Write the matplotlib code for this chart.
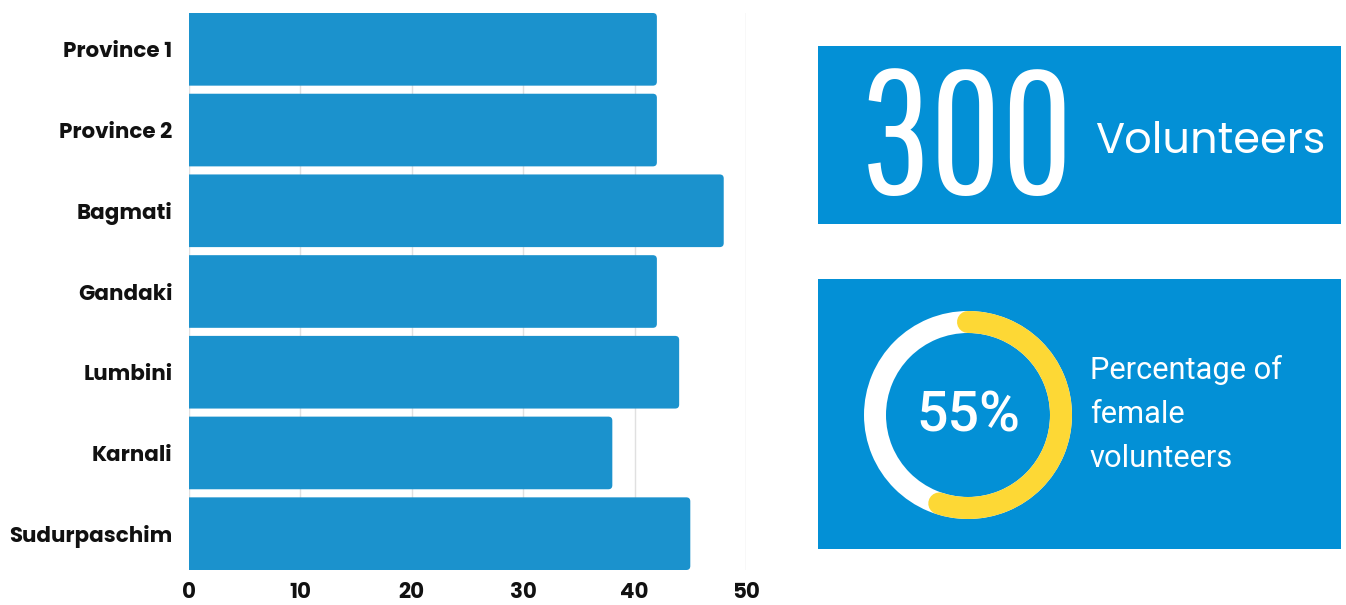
import numpy as np
import matplotlib
matplotlib.use("Agg")
import matplotlib.pyplot as plt
from matplotlib import font_manager as fm
from matplotlib.textpath import TextPath
from matplotlib.patches import Rectangle, Wedge, FancyBboxPatch

# ---- data -------------------------------------------------------------
provinces = ["Province 1", "Province 2", "Bagmati", "Gandaki",
             "Lumbini", "Karnali", "Sudurpaschim"]
volunteers_by_province = [42, 42, 48, 42, 44, 38, 45]
x_ticks = [0, 10, 20, 30, 40, 50]
total_volunteers = 300
female_pct = 55

# ---- styling ----------------------------------------------------------
BAR_BLUE = "#1B92CD"
BOX_BLUE = "#0390D6"
YELLOW = "#FDD835"
GRID = "#E0E0E0"


def pick(candidates):
    """Return (family, weight) for the first installed face in the list."""
    faces = {}
    for f in fm.fontManager.ttflist:
        w = f.weight if isinstance(f.weight, int) else fm.weight_dict.get(f.weight, 400)
        if f.style == "normal":
            faces.setdefault(f.name, set()).add(w)
    for name, weight in candidates:
        if weight in faces.get(name, ()):
            return name, weight
    return "DejaVu Sans", candidates[-1][1]


LABEL_BOLD = pick([("Montserrat", 700), ("Poppins", 700), ("Raleway", 700),
                   ("Lato", 900), ("Lato", 700), ("DejaVu Sans", 700)])
LABEL_REG = pick([("Montserrat", 400), ("Poppins", 400), ("Raleway", 400),
                  ("Lato", 400), ("DejaVu Sans", 400)])
BIG = pick([("Pathway Gothic One", 400), ("Oswald", 200), ("Oswald", 300),
            ("Antonio", 200), ("Antonio", 100), ("Roboto Condensed", 300),
            ("IBM Plex Sans Condensed", 200), ("IBM Plex Sans Condensed", 300),
            ("DejaVu Sans", 200)])
ROBOTO_MED = pick([("Roboto", 500), ("Roboto", 700), ("DejaVu Sans", 700)])
ROBOTO_REG = pick([("Roboto", 400), ("DejaVu Sans", 400)])


def fp(face, size):
    return fm.FontProperties(family=face[0], weight=face[1], size=size)


def size_for_height(text, face, height_px):
    """Font size (pt) giving glyphs of the requested pixel height."""
    ext = TextPath((0, 0), text, size=100, prop=fp(face, 100)).get_extents()
    return height_px * 72 / 100 * 100 / ext.height


W, H = 1346, 605
fig = plt.figure(figsize=(W / 100, H / 100), dpi=100)
fig.patch.set_facecolor("white")

# ---- bar chart --------------------------------------------------------
left, right, top, bottom = 189, 746, 13, 570
ax = fig.add_axes([left / W, 1 - bottom / H, (right - left) / W, (bottom - top) / H])
ypos = np.arange(len(provinces))
bars = ax.barh(ypos, volunteers_by_province, height=0.9, color=BAR_BLUE, zorder=2)
ax.set_xlim(0, 50)
ax.set_ylim(len(provinces) - 0.55, -0.45)

# rounded right-hand corners (left side is clipped at the axis)
px_x = 50 / (right - left)
px_y = (len(provinces) - 0.1) / (bottom - top)
for b in bars:
    b.set_visible(False)
    ax.add_patch(FancyBboxPatch((b.get_x() - 1.0, b.get_y()), b.get_width() + 1.0, b.get_height(),
                                boxstyle=f"round,pad=0,rounding_size={4 * px_x}",
                                mutation_aspect=px_y / px_x,
                                facecolor=BAR_BLUE, edgecolor="none", zorder=2))

ax.set_xticks(x_ticks)
ax.set_yticks(ypos)
ax.set_yticklabels(provinces)
ax.tick_params(axis="both", length=0)
ax.tick_params(axis="x", pad=9)
ax.tick_params(axis="y", pad=12)
label_size = size_for_height("P", LABEL_BOLD, 15)
for lab in ax.get_xticklabels() + ax.get_yticklabels():
    lab.set_fontproperties(fp(LABEL_BOLD, label_size))
    lab.set_color("#111111")
ax.grid(axis="x", color=GRID, linewidth=1.0, zorder=0)
ax.grid(axis="y", visible=False)
ax.set_axisbelow(True)
for s in ax.spines.values():
    s.set_visible(False)

# ---- right-hand info panels (pixel coordinates) -----------------------
ov = fig.add_axes([0, 0, 1, 1])
ov.set_xlim(0, W)
ov.set_ylim(H, 0)
ov.axis("off")

ov.add_patch(Rectangle((818, 46), 523, 178, facecolor=BOX_BLUE, edgecolor="none"))
big_txt = f"{total_volunteers}"
ov.text(967, 193, big_txt, ha="center", va="baseline",
        fontproperties=fp(BIG, size_for_height(big_txt, BIG, 127)), color="white")
ov.text(1095, 153, "Volunteers", ha="left", va="baseline",
        fontproperties=fp(LABEL_REG, size_for_height("V", LABEL_REG, 30)), color="white")

ov.add_patch(Rectangle((818, 279), 523, 270, facecolor=BOX_BLUE, edgecolor="none"))
cx, cy, r_out, ring = 968, 415, 104, 22
ov.add_patch(Wedge((cx, cy), r_out, 0, 360, width=ring, facecolor="white", edgecolor="none"))
t = np.linspace(0, 2 * np.pi * female_pct / 100, 300)
r_mid = r_out - ring / 2
ov.plot(cx + r_mid * np.sin(t), cy - r_mid * np.cos(t), color=YELLOW,
        linewidth=ring * 72 / 100, solid_capstyle="round")
pct_txt = f"{female_pct}%"
ov.text(cx, cy + 1, pct_txt, ha="center", va="center",
        fontproperties=fp(ROBOTO_MED, size_for_height("55", ROBOTO_MED, 40)), color="white")
body = fp(ROBOTO_REG, size_for_height("P", ROBOTO_REG, 22))
for i, line in enumerate(["Percentage of", "female", "volunteers"]):
    ov.text(1090, 379 + 44 * i, line, ha="left", va="baseline",
            fontproperties=body, color="white")

fig.savefig("out.png", dpi=100)
